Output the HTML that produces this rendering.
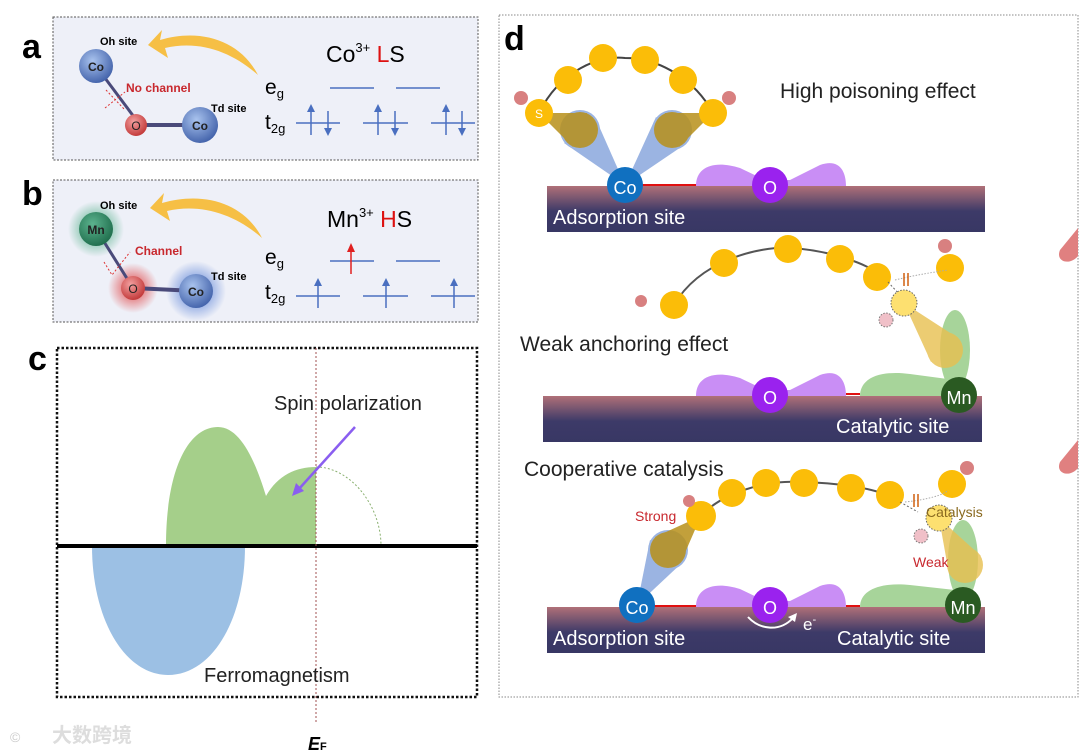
<!DOCTYPE html>
<html><head><meta charset="utf-8"><style>
html,body{margin:0;padding:0;background:#fff;}
svg{display:block;font-family:"Liberation Sans","Noto Sans CJK SC",sans-serif;}
</style></head><body>
<svg width="1080" height="753" viewBox="0 0 1080 753" xmlns="http://www.w3.org/2000/svg">
<defs>
<linearGradient id="slab" x1="0" y1="0" x2="0" y2="1">
<stop offset="0" stop-color="#b07078"/><stop offset="0.55" stop-color="#3d3a68"/><stop offset="1" stop-color="#383764"/>
</linearGradient>
<radialGradient id="blue" cx="0.4" cy="0.35" r="0.7"><stop offset="0" stop-color="#a9c3ee"/><stop offset="1" stop-color="#3f5fa8"/></radialGradient>
<radialGradient id="red" cx="0.4" cy="0.35" r="0.7"><stop offset="0" stop-color="#f3a0a0"/><stop offset="1" stop-color="#c03434"/></radialGradient>
<radialGradient id="green" cx="0.4" cy="0.35" r="0.7"><stop offset="0" stop-color="#5cb38e"/><stop offset="1" stop-color="#1d6b4a"/></radialGradient>
<radialGradient id="glowG"><stop offset="0.4" stop-color="#3fa77a" stop-opacity="0.6"/><stop offset="1" stop-color="#3fa77a" stop-opacity="0"/></radialGradient>
<radialGradient id="glowR"><stop offset="0.4" stop-color="#e04040" stop-opacity="0.6"/><stop offset="1" stop-color="#e04040" stop-opacity="0"/></radialGradient>
<radialGradient id="glowB"><stop offset="0.4" stop-color="#3d6cd0" stop-opacity="0.55"/><stop offset="1" stop-color="#3d6cd0" stop-opacity="0"/></radialGradient>
</defs>

<!-- panel a -->
<rect x="53" y="17" width="425" height="143" fill="#eef0f8" stroke="#555" stroke-dasharray="2,1.5"/>
<text x="22" y="58" font-size="34" font-weight="bold">a</text>
<path d="M258 75 C240 40 200 28 160 40 L162 30 L148 45 L168 58 L165 48 C200 40 232 52 258 75Z" fill="#f6bf45"/>
<line x1="96" y1="66" x2="140" y2="125" stroke="#4a4a7a" stroke-width="3"/>
<line x1="140" y1="125" x2="196" y2="125" stroke="#4a4a7a" stroke-width="4"/>
<line x1="106" y1="90" x2="125" y2="110" stroke="#d33" stroke-width="1" stroke-dasharray="2,2"/>
<line x1="105" y1="108" x2="125" y2="92" stroke="#d33" stroke-width="1" stroke-dasharray="2,2"/>
<circle cx="96" cy="66" r="17" fill="url(#blue)"/><text x="96" y="71" font-size="12" font-weight="bold" text-anchor="middle" fill="#222">Co</text>
<circle cx="136" cy="125" r="11" fill="url(#red)"/><text x="136" y="130" font-size="12" text-anchor="middle" fill="#222">O</text>
<circle cx="200" cy="125" r="18" fill="url(#blue)"/><text x="200" y="130" font-size="12" font-weight="bold" text-anchor="middle" fill="#222">Co</text>
<text x="100" y="45" font-size="11" font-weight="bold">Oh site</text>
<text x="126" y="92" font-size="12" font-weight="bold" fill="#c8282e">No channel</text>
<text x="211" y="112" font-size="11" font-weight="bold">Td site</text>
<text x="326" y="62" font-size="23">Co<tspan font-size="13" dy="-10">3+</tspan><tspan dy="10" fill="#d11"> L</tspan>S</text>
<text x="265" y="94" font-size="21">e<tspan font-size="13" dy="4">g</tspan></text>
<text x="265" y="129" font-size="21">t<tspan font-size="13" dy="4">2g</tspan></text>
<g stroke="#4a6fc0" stroke-width="1.5">
<line x1="330" y1="88" x2="374" y2="88"/><line x1="396" y1="88" x2="440" y2="88"/>
<line x1="296" y1="123" x2="340" y2="123"/><line x1="363" y1="123" x2="408" y2="123"/><line x1="431" y1="123" x2="475" y2="123"/>
<line x1="311" y1="108" x2="311" y2="135"/><line x1="328" y1="111" x2="328" y2="132"/>
<line x1="378" y1="108" x2="378" y2="135"/><line x1="395" y1="111" x2="395" y2="132"/>
<line x1="446" y1="108" x2="446" y2="135"/><line x1="462" y1="111" x2="462" y2="132"/>
</g>
<g fill="#4a6fc0"><path d="M307 112 L311 104 L315 112Z"/><path d="M324 128 L328 136 L332 128Z"/><path d="M374 112 L378 104 L382 112Z"/><path d="M391 128 L395 136 L399 128Z"/><path d="M442 112 L446 104 L450 112Z"/><path d="M458 128 L462 136 L466 128Z"/></g>

<!-- panel b -->
<rect x="53" y="180" width="425" height="142" fill="#eef0f8" stroke="#555" stroke-dasharray="2,1.5"/>
<text x="22" y="205" font-size="34" font-weight="bold">b</text>
<path d="M262 238 C244 203 204 191 162 203 L164 193 L150 208 L170 221 L167 211 C202 203 236 215 262 238Z" fill="#f6bf45"/>
<circle cx="96" cy="229" r="28" fill="url(#glowG)"/>
<circle cx="133" cy="288" r="25" fill="url(#glowR)"/>
<circle cx="196" cy="291" r="30" fill="url(#glowB)"/>
<line x1="96" y1="229" x2="133" y2="288" stroke="#4a4a7a" stroke-width="3"/>
<line x1="133" y1="288" x2="196" y2="291" stroke="#4a4a7a" stroke-width="4"/>
<polyline points="104,262 112,275 130,252" fill="none" stroke="#d33" stroke-dasharray="2,2"/>
<circle cx="96" cy="229" r="17" fill="url(#green)"/><text x="96" y="234" font-size="12" font-weight="bold" text-anchor="middle" fill="#222">Mn</text>
<circle cx="133" cy="288" r="12" fill="url(#red)"/><text x="133" y="293" font-size="12" text-anchor="middle" fill="#222">O</text>
<circle cx="196" cy="291" r="17" fill="url(#blue)"/><text x="196" y="296" font-size="12" font-weight="bold" text-anchor="middle" fill="#222">Co</text>
<text x="100" y="209" font-size="11" font-weight="bold">Oh site</text>
<text x="135" y="255" font-size="12" font-weight="bold" fill="#c8282e">Channel</text>
<text x="211" y="280" font-size="11" font-weight="bold">Td site</text>
<text x="327" y="227" font-size="23">Mn<tspan font-size="13" dy="-10">3+</tspan><tspan dy="10" fill="#d11"> H</tspan>S</text>
<text x="265" y="264" font-size="21">e<tspan font-size="13" dy="4">g</tspan></text>
<text x="265" y="299" font-size="21">t<tspan font-size="13" dy="4">2g</tspan></text>
<g stroke="#4a6fc0" stroke-width="1.5">
<line x1="330" y1="261" x2="374" y2="261"/><line x1="396" y1="261" x2="440" y2="261"/>
<line x1="296" y1="296" x2="340" y2="296"/><line x1="363" y1="296" x2="408" y2="296"/><line x1="431" y1="296" x2="475" y2="296"/>
<line x1="318" y1="284" x2="318" y2="308"/><line x1="386" y1="284" x2="386" y2="308"/><line x1="454" y1="284" x2="454" y2="308"/>
</g>
<line x1="351" y1="248" x2="351" y2="274" stroke="#e02020" stroke-width="1.5"/><path d="M347 252 L351 243 L355 252Z" fill="#e02020"/>
<g fill="#4a6fc0"><path d="M314 286 L318 278 L322 286Z"/><path d="M382 286 L386 278 L390 286Z"/><path d="M450 286 L454 278 L458 286Z"/></g>

<!-- panel c -->
<text x="28" y="370" font-size="34" font-weight="bold">c</text>
<rect x="57" y="348" width="420" height="349" fill="none" stroke="#111" stroke-width="2.5" stroke-dasharray="2.5,2"/>
<path d="M92 546 C92 620 125 675 168 675 C212 675 245 620 245 546Z" fill="#9cc0e4"/>
<path d="M166 546 C166 470 188 427 218 427 C240 427 255 460 266 496 C278 475 296 467 316 467 L316 546Z" fill="#a5cf8a"/>
<path d="M316 467 C350 467 381 505 381 546" fill="none" stroke="#8ab070" stroke-dasharray="2,2"/>
<line x1="57" y1="546" x2="477" y2="546" stroke="#000" stroke-width="4"/>
<line x1="316" y1="348" x2="316" y2="724" stroke="#a05050" stroke-width="1" stroke-dasharray="2,2"/>
<line x1="355" y1="427" x2="298" y2="490" stroke="#8a5ef0" stroke-width="2.5"/>
<path d="M292 496 L296 483 L304 491Z" fill="#8a5ef0"/>
<text x="274" y="410" font-size="20" fill="#222">Spin polarization</text>
<text x="204" y="682" font-size="20" fill="#222">Ferromagnetism</text>
<text x="308" y="750" font-size="18" font-weight="bold" font-style="italic">E<tspan font-size="11" font-style="normal">F</tspan></text>
<text x="10" y="742" font-size="14" fill="#ccc">©</text>
<text x="52" y="742" font-size="20" fill="#ddd" font-weight="bold">大数跨境</text>

<!-- panel d -->
<rect x="499" y="15" width="579" height="682" fill="none" stroke="#888" stroke-dasharray="1.5,1.5"/>
<text x="504" y="50" font-size="34" font-weight="bold">d</text>

<!-- layer 1 -->
<rect x="547" y="186" width="438" height="46" fill="url(#slab)"/>
<path d="M696 186 C696 166 715 160 740 168 L765 180 L790 180 L820 165 C840 158 846 172 846 186Z" fill="#c98ef5"/>
<line x1="640" y1="185" x2="696" y2="185" stroke="#e01010" stroke-width="2"/>
<g fill="#8aa8de" opacity="0.85">
<polygon points="625,185 595,117 564,143"/><circle cx="580" cy="130" r="20"/>
<polygon points="625,185 656,117 687,143"/><circle cx="672" cy="130" r="20"/>
</g>
<g fill="#b8901a" opacity="0.85">
<polygon points="539,113 587,113 573,147"/><circle cx="580" cy="130" r="18"/>
<polygon points="713,113 665,113 679,147"/><circle cx="672" cy="130" r="18"/>
</g>
<path d="M539 113 C560 70 600 55 625 58 C660 58 695 80 713 113" fill="none" stroke="#444" stroke-width="2"/>
<g fill="#fbbd08"><circle cx="539" cy="113" r="14"/><circle cx="568" cy="80" r="14"/><circle cx="603" cy="58" r="14"/><circle cx="645" cy="60" r="14"/><circle cx="683" cy="80" r="14"/><circle cx="713" cy="113" r="14"/></g>
<circle cx="521" cy="98" r="7" fill="#d88080"/><circle cx="729" cy="98" r="7" fill="#d88080"/>
<text x="539" y="118" font-size="12" fill="#fff" text-anchor="middle">S</text>
<circle cx="625" cy="185" r="18" fill="#1070c0"/><text x="625" y="194" font-size="18" fill="#fff" text-anchor="middle">Co</text>
<circle cx="770" cy="185" r="18" fill="#9a22ee"/><text x="770" y="194" font-size="18" fill="#fff" text-anchor="middle">O</text>
<text x="553" y="224" font-size="20" fill="#fff">Adsorption site</text>
<text x="780" y="98" font-size="21" fill="#222">High poisoning effect</text>

<!-- layer 2 -->
<rect x="543" y="396" width="439" height="46" fill="url(#slab)"/>
<path d="M696 396 C696 376 715 370 740 378 L765 390 L790 390 L820 375 C840 368 846 382 846 396Z" fill="#c98ef5"/>
<line x1="846" y1="394" x2="860" y2="394" stroke="#e01010" stroke-width="2"/>
<path d="M860 396 C860 378 880 370 910 374 L955 380 L960 396Z" fill="#a7d49a"/>
<ellipse cx="955" cy="350" rx="15" ry="40" fill="#a7d49a"/>
<g fill="#e8c050" opacity="0.8"><polygon points="904,303 958,338 931,362"/><circle cx="945" cy="350" r="18"/></g>
<path d="M674 305 C700 260 760 246 790 248 C830 250 870 265 880 275" fill="none" stroke="#555" stroke-width="2"/>
<g fill="#fbbd08"><circle cx="674" cy="305" r="14"/><circle cx="724" cy="263" r="14"/><circle cx="788" cy="249" r="14"/><circle cx="840" cy="259" r="14"/><circle cx="877" cy="277" r="14"/><circle cx="950" cy="268" r="14"/></g>
<path d="M888 282 L900 295" stroke="#666" stroke-dasharray="2,2"/>
<path d="M895 280 C915 275 935 272 948 270" stroke="#aaa" stroke-dasharray="1.5,1.5" fill="none"/>
<line x1="904" y1="273" x2="904" y2="286" stroke="#d06010" stroke-width="1.5"/><line x1="908" y1="273" x2="908" y2="286" stroke="#d06010" stroke-width="1.5"/>
<circle cx="904" cy="303" r="13" fill="#fde070" stroke="#666" stroke-dasharray="1.5,1.5"/>
<circle cx="886" cy="320" r="7" fill="#f0c0c8" stroke="#777" stroke-dasharray="1.5,1.5"/>
<circle cx="641" cy="301" r="6" fill="#d88080"/><circle cx="945" cy="246" r="7" fill="#d88080"/>
<path d="M1078 228 L1060 250 C1055 262 1070 266 1078 256Z" fill="#e08080"/>
<circle cx="770" cy="395" r="18" fill="#9a22ee"/><text x="770" y="404" font-size="18" fill="#fff" text-anchor="middle">O</text>
<circle cx="959" cy="395" r="18" fill="#2a5a22"/><text x="959" y="404" font-size="18" fill="#fff" text-anchor="middle">Mn</text>
<text x="836" y="433" font-size="20" fill="#fff">Catalytic site</text>
<text x="520" y="351" font-size="21" fill="#222">Weak anchoring effect</text>

<!-- layer 3 -->
<rect x="547" y="607" width="438" height="46" fill="url(#slab)"/>
<path d="M696 607 C696 587 715 581 740 589 L765 601 L790 601 L820 586 C840 579 846 593 846 607Z" fill="#c98ef5"/>
<line x1="640" y1="606" x2="696" y2="606" stroke="#e01010" stroke-width="2"/>
<line x1="846" y1="606" x2="860" y2="606" stroke="#e01010" stroke-width="2"/>
<path d="M860 607 C860 590 880 582 910 585 L955 590 L960 607Z" fill="#a7d49a"/>
<ellipse cx="963" cy="560" rx="15" ry="40" fill="#a7d49a"/>
<g fill="#8aa8de" opacity="0.85"><polygon points="637,605 685,560 650,540"/><circle cx="668" cy="550" r="20"/></g>
<g fill="#b8901a" opacity="0.85"><polygon points="701,516 681,562 655,537"/><circle cx="668" cy="550" r="18"/></g>
<g fill="#e8c050" opacity="0.8"><polygon points="939,518 981,556 949,574"/><circle cx="965" cy="565" r="18"/></g>
<path d="M701 516 C720 495 760 480 800 482 C840 483 870 488 887 495" fill="none" stroke="#555" stroke-width="2"/>
<g fill="#fbbd08"><circle cx="701" cy="516" r="15"/><circle cx="732" cy="493" r="14"/><circle cx="766" cy="483" r="14"/><circle cx="804" cy="483" r="14"/><circle cx="851" cy="488" r="14"/><circle cx="890" cy="495" r="14"/><circle cx="952" cy="484" r="14"/></g>
<path d="M900 502 L918 512" stroke="#666" stroke-dasharray="2,2"/>
<path d="M905 502 C925 500 945 495 948 490" stroke="#aaa" stroke-dasharray="1.5,1.5" fill="none"/>
<line x1="914" y1="494" x2="914" y2="507" stroke="#d06010" stroke-width="1.5"/><line x1="918" y1="494" x2="918" y2="507" stroke="#d06010" stroke-width="1.5"/>
<circle cx="939" cy="518" r="13" fill="#fde070" stroke="#666" stroke-dasharray="1.5,1.5"/>
<circle cx="921" cy="536" r="7" fill="#f0c0c8" stroke="#777" stroke-dasharray="1.5,1.5"/>
<circle cx="689" cy="501" r="6" fill="#d88080"/><circle cx="967" cy="468" r="7" fill="#d88080"/>
<path d="M1078 440 L1060 462 C1055 474 1070 478 1078 468Z" fill="#e08080"/>
<circle cx="637" cy="605" r="18" fill="#1070c0"/><text x="637" y="614" font-size="18" fill="#fff" text-anchor="middle">Co</text>
<circle cx="770" cy="605" r="18" fill="#9a22ee"/><text x="770" y="614" font-size="18" fill="#fff" text-anchor="middle">O</text>
<circle cx="963" cy="605" r="18" fill="#2a5a22"/><text x="963" y="614" font-size="18" fill="#fff" text-anchor="middle">Mn</text>
<path d="M748 617 C760 630 780 632 793 618" fill="none" stroke="#fff" stroke-width="2"/>
<path d="M797 613 L788 617 L795 622Z" fill="#fff"/>
<text x="803" y="630" font-size="17" fill="#fff">e<tspan font-size="11" dy="-7">-</tspan></text>
<text x="553" y="645" font-size="20" fill="#fff">Adsorption site</text>
<text x="837" y="645" font-size="20" fill="#fff">Catalytic site</text>
<text x="524" y="476" font-size="21" fill="#222">Cooperative catalysis</text>
<text x="635" y="521" font-size="14" fill="#c8282e">Strong</text>
<text x="913" y="567" font-size="14" fill="#c8282e">Weak</text>
<text x="926" y="517" font-size="14" fill="#8a6a20">Catalysis</text>
</svg>
</body></html>
